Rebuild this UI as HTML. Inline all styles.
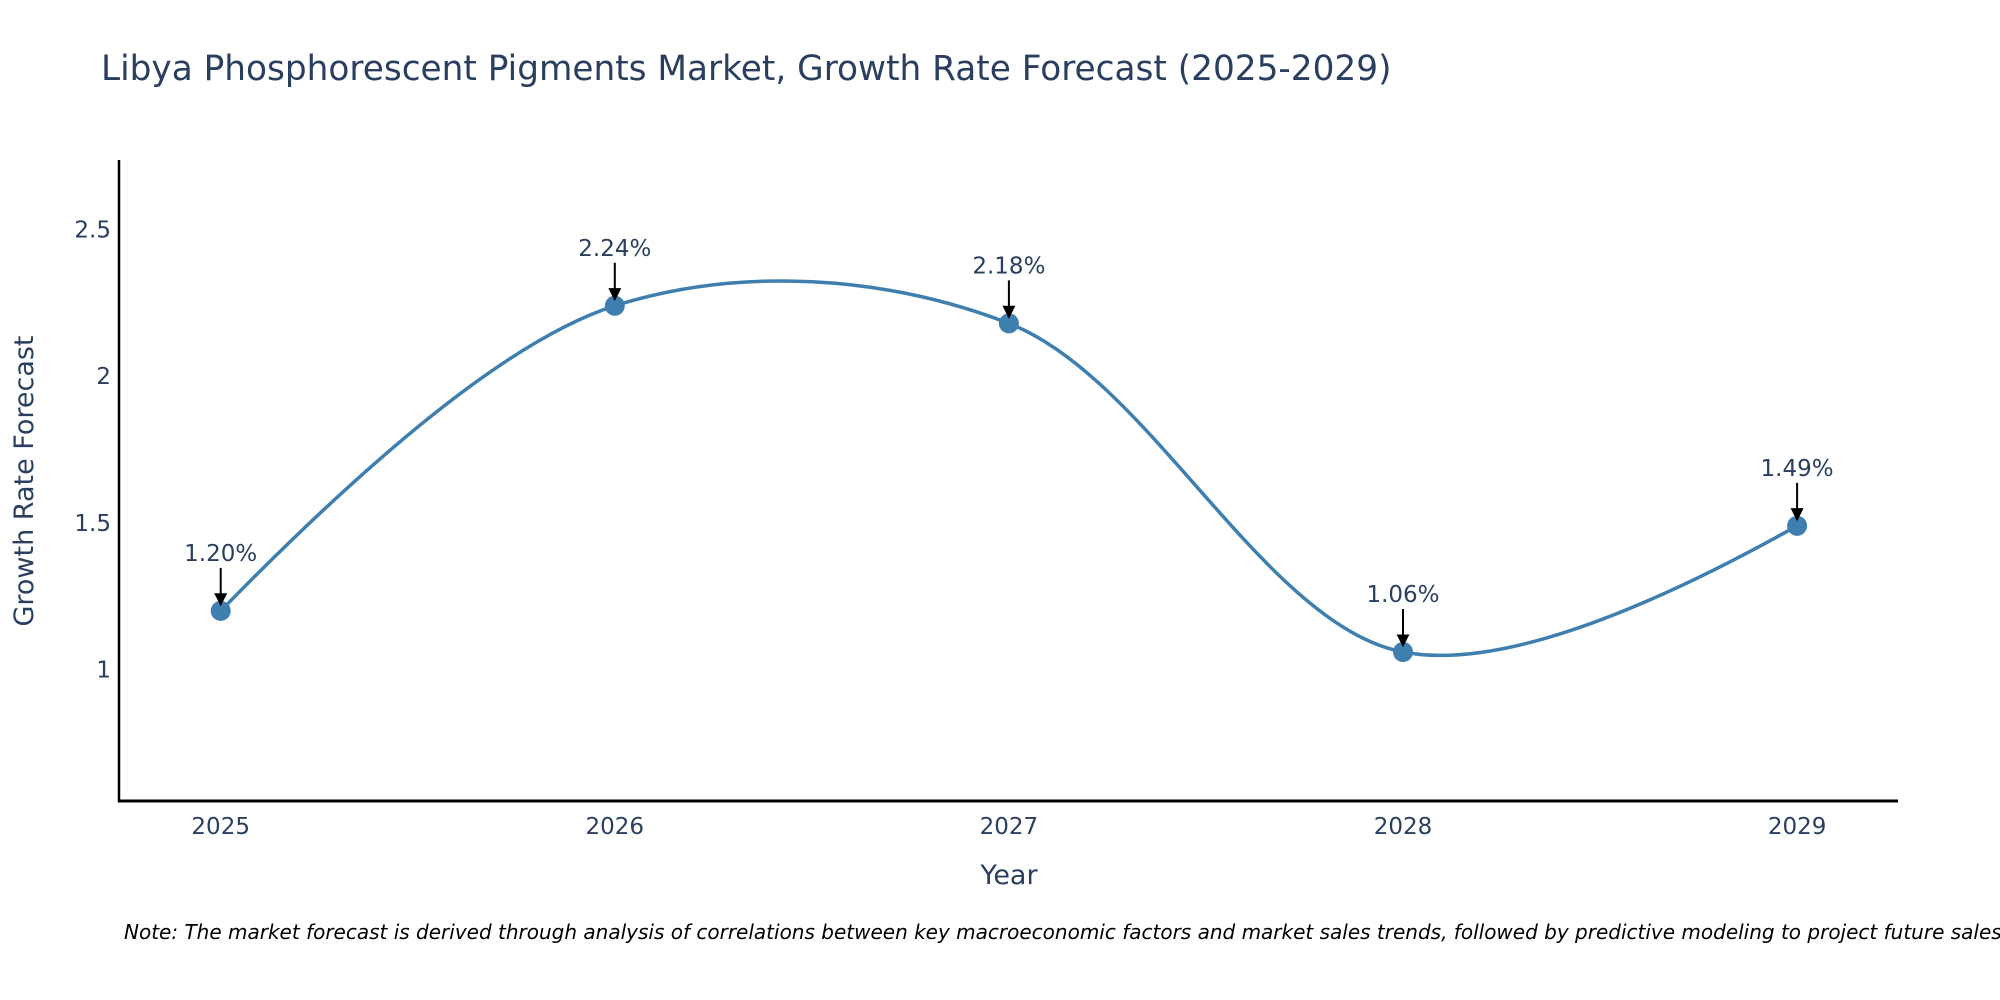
<!DOCTYPE html>
<html><head><meta charset="utf-8"><style>
html,body{margin:0;padding:0;background:#fff;width:2000px;height:1000px;overflow:hidden}
text{font-family:"DejaVu Sans","Liberation Sans",sans-serif}
</style></head><body>
<svg id="chart" width="2000" height="1000" xmlns="http://www.w3.org/2000/svg">
<defs><marker id="ah" viewBox="0 0 10 10" refX="9" refY="5" markerWidth="13" markerHeight="13" markerUnits="userSpaceOnUse" orient="auto"><path d="M0,0L10,5L0,10z" fill="#000"/></marker></defs>
<text x="101" y="80" font-size="34.3" fill="#2a3f5f">Libya Phosphorescent Pigments Market, Growth Rate Forecast (2025-2029)</text>
<g id="plot"></g>
<line x1="119" y1="160" x2="119" y2="802" stroke="#000" stroke-width="2.5"/>
<line x1="118" y1="801" x2="1898" y2="801" stroke="#000" stroke-width="3"/>
<text x="1009" y="884" font-size="27" fill="#2a3f5f" text-anchor="middle">Year</text>
<text transform="translate(33,481) rotate(-90)" font-size="27" fill="#2a3f5f" text-anchor="middle">Growth Rate Forecast</text>
<text x="124" y="939" font-size="20" font-style="italic" fill="#000">Note: The market forecast is derived through analysis of correlations between key macroeconomic factors and market sales trends, followed by predictive modeling to project future sales.</text>
</svg>
<script>
const years=[2025,2026,2027,2028,2029];
const values=[1.20,2.24,2.18,1.06,1.49];
const labels=["1.20%","2.24%","2.18%","1.06%","1.49%"];
const yTicks=[1,1.5,2,2.5];
const yTickLabels=["1","1.5","2","2.5"];
const NS="http://www.w3.org/2000/svg";
const g=document.getElementById('plot');
const X=v=>220.7+(v-2025)*394.1;
const Y=v=>669.6-(v-1)*293.4;
function el(t,a){const e=document.createElementNS(NS,t);for(const k in a)e.setAttribute(k,a[k]);g.appendChild(e);return e;}
yTicks.forEach((t,i)=>{const e=el('text',{x:111,y:Y(t)+8,'font-size':23,fill:'#2a3f5f','text-anchor':'end'});e.textContent=yTickLabels[i];

});
years.forEach(y=>{const e=el('text',{x:X(y),y:834,'font-size':23,fill:'#2a3f5f','text-anchor':'middle'});e.textContent=y;

});
const pts=years.map((y,i)=>[X(y),Y(values[i])]);
function tan(p,t,n,s){const d1x=p[0]-t[0],d1y=p[1]-t[1],d2x=n[0]-t[0],d2y=n[1]-t[1];
const d1a=Math.pow(d1x*d1x+d1y*d1y,0.25),d2a=Math.pow(d2x*d2x+d2y*d2y,0.25);
const nx=(d2a*d2a*d1x-d1a*d1a*d2x)*s,ny=(d2a*d2a*d1y-d1a*d1a*d2y)*s;
const D1=3*d2a*(d1a+d2a),D2=3*d1a*(d1a+d2a);
return [[t[0]+nx/D1,t[1]+ny/D1],[t[0]-nx/D2,t[1]-ny/D2]];}
const T=[];for(let i=1;i<pts.length-1;i++)T.push(tan(pts[i-1],pts[i],pts[i+1],1));
const f=p=>p[0].toFixed(2)+','+p[1].toFixed(2);
let d='M'+f(pts[0])+'Q'+f(T[0][0])+' '+f(pts[1]);
for(let i=2;i<pts.length-1;i++)d+='C'+f(T[i-2][1])+' '+f(T[i-1][0])+' '+f(pts[i]);
d+='Q'+f(T[T.length-1][1])+' '+f(pts[pts.length-1]);
const line=el('path',{d:d,fill:'none',stroke:'#3f7fb0','stroke-width':3.5});


pts.forEach((p,i)=>{
const c=el('circle',{cx:p[0],cy:p[1],r:10,fill:'#3f7fb0'});


const a=el('line',{x1:p[0],y1:p[1]-43,x2:p[0],y2:p[1]-6,stroke:'#000','stroke-width':2,'marker-end':'url(#ah)'});


const t=el('text',{x:p[0],y:p[1]-50,'font-size':23,fill:'#2a3f5f','text-anchor':'middle'});t.textContent=labels[i];


});
</script>
</body></html>
